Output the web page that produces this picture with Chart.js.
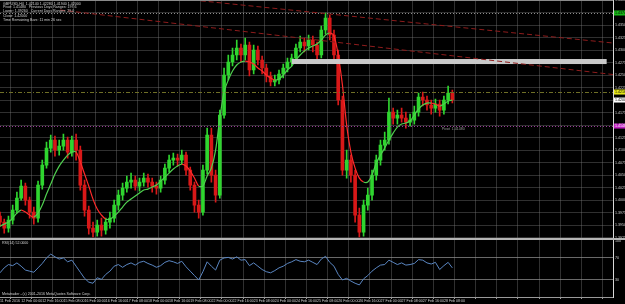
<!DOCTYPE html>
<html>
<head>
<meta charset="utf-8">
<script src="https://cdn.jsdelivr.net/npm/chart.js@4.4.1/dist/chart.umd.min.js"></script>
<style>
  html, body { margin: 0; padding: 0; background: #000; overflow: hidden; }
  #wrap { width: 625px; height: 304px; position: relative; }
</style>
</head>
<body>
<div id="wrap"><canvas id="grafico"></canvas></div>
<script>
// etiquetas de tiempo (una cada 5 velas)
const timeLabels = ['11 Feb 2016', '12 Feb 00:00', '12 Feb 16:00', '15 Feb 08:00', '16 Feb 00:00', '16 Feb 16:00',
  '17 Feb 08:00', '18 Feb 00:00', '18 Feb 16:00', '19 Feb 08:00', '22 Feb 00:00', '22 Feb 16:00', '23 Feb 08:00',
  '24 Feb 00:00', '24 Feb 16:00', '25 Feb 08:00', '26 Feb 00:00', '26 Feb 16:00', '27 Feb 00:00', '27 Feb 08:00',
  '27 Feb 16:00', '28 Feb 08:00'];
const totalSlots = 146; // velas + espacio vacio a la derecha

const opens = [1.3968,1.3956,1.3944,1.3960,1.3980,1.4004,1.4028,1.4000,1.3976,1.3964,1.4030,1.4070,1.4104,1.4120,1.4100,1.4108,
  1.4120,1.4096,1.4120,1.4100,1.4030,1.3980,1.3944,1.3936,1.3950,1.3940,1.3956,1.3964,1.3990,1.4010,1.4024,1.4036,
  1.4040,1.4028,1.4036,1.4044,1.4036,1.4028,1.4024,1.4040,1.4064,1.4080,1.4084,1.4080,1.4090,1.4060,1.4030,1.3990,
  1.3976,1.4060,1.4130,1.4050,1.4010,1.4170,1.4250,1.4276,1.4290,1.4304,1.4290,1.4310,1.4260,1.4300,1.4280,1.4264,
  1.4248,1.4236,1.4240,1.4252,1.4264,1.4276,1.4284,1.4304,1.4316,1.4308,1.4320,1.4310,1.4290,1.4340,1.4364,1.4330,
  1.4290,1.4200,1.4060,1.4080,1.4050,1.3970,1.3936,1.3990,1.4010,1.4050,1.4080,1.4110,1.4120,1.4176,1.4164,1.4170,
  1.4164,1.4156,1.4160,1.4176,1.4206,1.4200,1.4190,1.4184,1.4192,1.4180,1.4200,1.4214];
const highs = [1.3976,1.3962,1.3968,1.3990,1.4016,1.4040,1.4034,1.4006,1.3986,1.4038,1.4080,1.4116,1.4130,1.4128,1.4120,1.4132,
  1.4126,1.4128,1.4132,1.4108,1.4040,1.3988,1.3956,1.3960,1.3964,1.3964,1.3976,1.4000,1.4020,1.4034,1.4048,1.4054,
  1.4048,1.4044,1.4054,1.4052,1.4044,1.4036,1.4048,1.4072,1.4090,1.4094,1.4092,1.4100,1.4096,1.4066,1.4036,1.4000,
  1.4070,1.4144,1.4144,1.4060,1.4180,1.4264,1.4290,1.4304,1.4320,1.4312,1.4324,1.4316,1.4310,1.4308,1.4288,1.4272,
  1.4256,1.4250,1.4260,1.4272,1.4284,1.4292,1.4312,1.4328,1.4324,1.4330,1.4328,1.4316,1.4348,1.4374,1.4370,1.4340,
  1.4300,1.4208,1.4100,1.4090,1.4060,1.3984,1.4000,1.4024,1.4060,1.4090,1.4120,1.4136,1.4204,1.4184,1.4180,1.4184,
  1.4176,1.4172,1.4188,1.4214,1.4216,1.4208,1.4200,1.4202,1.4200,1.4208,1.4228,1.4220];
const lows = [1.3948,1.3934,1.3936,1.3952,1.3974,1.4000,1.3990,1.3964,1.3952,1.3956,1.4022,1.4064,1.4096,1.4088,1.4090,1.4100,
  1.4084,1.4088,1.4080,1.4020,1.3968,1.3932,1.3926,1.3928,1.3928,1.3932,1.3944,1.3956,1.3980,1.4000,1.4016,1.4024,
  1.4020,1.4018,1.4028,1.4026,1.4016,1.4012,1.4016,1.4032,1.4056,1.4070,1.4068,1.4072,1.4050,1.4020,1.3976,1.3964,
  1.3970,1.4052,1.4036,1.3996,1.4004,1.4164,1.4240,1.4268,1.4280,1.4276,1.4280,1.4248,1.4252,1.4270,1.4252,1.4236,
  1.4228,1.4228,1.4232,1.4244,1.4256,1.4268,1.4276,1.4296,1.4296,1.4300,1.4296,1.4280,1.4284,1.4332,1.4320,1.4276,
  1.4190,1.4050,1.4044,1.4036,1.3956,1.3926,1.3928,1.3980,1.4000,1.4040,1.4070,1.4100,1.4112,1.4152,1.4152,1.4156,
  1.4144,1.4148,1.4152,1.4168,1.4188,1.4180,1.4172,1.4176,1.4168,1.4172,1.4192,1.4194];
const closes = [1.3956,1.3944,1.3960,1.3980,1.4004,1.4028,1.4000,1.3976,1.3964,1.4030,1.4070,1.4104,1.4120,1.4100,1.4108,1.4120,
  1.4096,1.4120,1.4100,1.4030,1.3980,1.3944,1.3936,1.3950,1.3940,1.3956,1.3964,1.3990,1.4010,1.4024,1.4036,1.4040,
  1.4028,1.4036,1.4044,1.4036,1.4028,1.4024,1.4040,1.4064,1.4080,1.4084,1.4080,1.4090,1.4060,1.4030,1.3990,1.3976,
  1.4060,1.4130,1.4050,1.4010,1.4170,1.4250,1.4276,1.4290,1.4304,1.4290,1.4310,1.4260,1.4300,1.4280,1.4264,1.4248,
  1.4236,1.4240,1.4252,1.4264,1.4276,1.4284,1.4304,1.4316,1.4308,1.4320,1.4310,1.4290,1.4340,1.4364,1.4330,1.4290,
  1.4200,1.4060,1.4080,1.4050,1.3970,1.3936,1.3990,1.4010,1.4050,1.4080,1.4110,1.4120,1.4176,1.4164,1.4170,1.4164,
  1.4156,1.4160,1.4176,1.4206,1.4200,1.4190,1.4184,1.4192,1.4180,1.4200,1.4214,1.4200];
// media movil (verde sube / roja baja)
const maValues = [1.3948,1.3952,1.3956,1.3964,1.3974,1.3980,1.3976,1.3970,1.3966,1.3974,1.3990,1.4012,1.4032,1.4052,1.4068,1.4080,
  1.4090,1.4096,1.4096,1.4076,1.4052,1.4028,1.4002,1.3982,1.3970,1.3962,1.3962,1.3968,1.3976,1.3986,1.3996,1.4002,
  1.4008,1.4014,1.4020,1.4022,1.4026,1.4030,1.4038,1.4046,1.4054,1.4062,1.4068,1.4072,1.4068,1.4058,1.4044,1.4028,
  1.4028,1.4048,1.4064,1.4100,1.4164,1.4216,1.4240,1.4258,1.4270,1.4276,1.4278,1.4276,1.4272,1.4264,1.4258,1.4250,
  1.4244,1.4240,1.4242,1.4250,1.4260,1.4268,1.4280,1.4290,1.4298,1.4304,1.4308,1.4312,1.4320,1.4330,1.4334,1.4328,
  1.4290,1.4230,1.4150,1.4096,1.4064,1.4044,1.4036,1.4036,1.4050,1.4074,1.4090,1.4104,1.4120,1.4134,1.4146,1.4152,
  1.4154,1.4158,1.4170,1.4182,1.4190,1.4194,1.4194,1.4192,1.4188,1.4192,1.4198,1.4200];
const rsiValues = [43,52,58,56,61,55,48,46,44,52,60,70,77,72,68,70,63,66,55,44,33,26,24,34,31,40,46,55,58,53,58,61,
  57,62,64,60,57,53,56,62,65,63,60,64,54,46,38,30,45,63,55,48,66,70,71,68,72,66,67,56,61,55,49,45,
  43,47,52,55,60,63,67,64,63,66,62,58,68,73,62,55,40,30,33,28,24,21,32,38,46,52,57,58,66,62,58,61,
  57,58,60,67,66,61,59,62,49,56,62,52];
const rsiTicks = [30, 70, 100];

// objetos dibujados en el grafico
const topLevel = 1.4374;
const resistLevel = 1.4216;
const pivotLevel = 1.4148;
const zoneRange = [1.4272, 1.4282];
const zoneSlots = [69, 143.5];
const trendA = [[14.2, 1.4380], [145, 1.4251]];
const trendB = [[45.6, 1.4400], [145, 1.4314]];
const infoLines = ['GBPUSD,H4  1.42140 1.42280 1.41940 1.42000', 'Pivot: 1.41480   Previous Days Ranges: 197.6',
  'Lower: 1.39260   Current Days Ranges: 29.0', 'Close: 1.42000', 'Time Remaining Bars: 11 min 26 sec'];

const verde = '#2fd52f', rojo = '#d81818';
const colorVela = opens.map((o, i) => closes[i] >= o ? verde : rojo);
const letraChica = { size: 3.6, family: 'Liberation Sans' };

const capaObjetos = {
  id: 'capaObjetos',
  afterDatasetsDraw(chart) {
    const { ctx, chartArea: a, scales: { x, y, rsi } } = chart;
    const fnt = '3.6px "Liberation Sans"';
    ctx.save();
    ctx.beginPath();
    ctx.rect(a.left, y.top, a.right - a.left, y.bottom - y.top);
    ctx.clip();
    const hline = (v, color, dash) => {
      const py = Math.round(y.getPixelForValue(v)) + 0.5;
      ctx.strokeStyle = color; ctx.lineWidth = 1; ctx.setLineDash(dash);
      ctx.beginPath(); ctx.moveTo(a.left, py); ctx.lineTo(a.right, py); ctx.stroke();
    };
    hline(topLevel, '#8c8c8c', [1, 2]);
    hline(resistLevel, '#6f6f26', [4, 2, 1, 2]);
    hline(pivotLevel, '#9a3a9a', [1, 2]);
    // zona
    const zx1 = x.getPixelForValue(zoneSlots[0]), zx2 = x.getPixelForValue(zoneSlots[1]);
    const zy1 = y.getPixelForValue(zoneRange[1]), zy2 = y.getPixelForValue(zoneRange[0]);
    ctx.fillStyle = '#c9c9c9';
    ctx.fillRect(zx1, zy1, zx2 - zx1, zy2 - zy1);
    // lineas de tendencia
    ctx.strokeStyle = '#8e1c1c'; ctx.setLineDash([5, 3]);
    [trendA, trendB].forEach(t => {
      ctx.beginPath();
      ctx.moveTo(x.getPixelForValue(t[0][0]), y.getPixelForValue(t[0][1]));
      ctx.lineTo(x.getPixelForValue(t[1][0]), y.getPixelForValue(t[1][1]));
      ctx.stroke();
    });
    ctx.setLineDash([]);
    ctx.font = fnt; ctx.fillStyle = '#9a9a9a'; ctx.textBaseline = 'top';
    ctx.fillText('Pivot  ' + pivotLevel.toFixed(5), x.getPixelForValue(104.5), y.getPixelForValue(pivotLevel) + 1);
    ctx.restore();

    ctx.save();
    // bordes y separador
    ctx.fillStyle = '#8a8a8a';
    ctx.fillRect(0, 0, a.right, 1);
    ctx.fillStyle = '#b4b4b4';
    ctx.fillRect(0, Math.round(y.bottom), chart.width, 2);
    // textos
    ctx.font = fnt; ctx.fillStyle = '#d0d0d0'; ctx.textBaseline = 'middle';
    infoLines.forEach((t, i) => ctx.fillText(t, 3, 3.5 + i * (i < 3 ? 3.5 : 4)));
    ctx.fillText('RSI(14) ' + rsiValues[rsiValues.length - 1].toFixed(4), 2, rsi.top + 5);
    ctx.fillText('Metatrader - (c) 2001-2016 MetaQuotes Software Corp.', 2, rsi.bottom - 3);
    // etiquetas de precio en el eje
    const tags = [[topLevel, '#19b819', '#000'], [resistLevel, '#e6e619', '#000'],
      [closes[closes.length - 1], '#ffffff', '#000'], [pivotLevel, '#c020c0', '#fff']];
    tags.forEach(([v, bg, fg]) => {
      const py = y.getPixelForValue(v);
      ctx.fillStyle = bg; ctx.fillRect(a.right + 1, py - 2.5, chart.width - a.right, 5);
      ctx.fillStyle = fg; ctx.fillText(v.toFixed(5), a.right + 2, py + 0.3);
    });
    ctx.restore();
  }
};

const grillaPunteada = { color: 'rgba(120,120,120,0.4)', lineWidth: 1, drawTicks: false };

new Chart(document.getElementById('grafico'), {
  type: 'bar',
  data: {
    labels: Array.from({ length: totalSlots }, (_, i) => String(i)),
    datasets: [
      {
        label: 'mechas',
        data: lows.map((l, i) => [l, highs[i]]),
        backgroundColor: colorVela,
        barThickness: 1,
        grouped: false,
        yAxisID: 'y',
        order: 3
      },
      {
        label: 'cuerpos',
        data: opens.map((o, i) => [o, closes[i]]),
        backgroundColor: colorVela,
        barThickness: 3,
        minBarLength: 1,
        grouped: false,
        yAxisID: 'y',
        order: 2
      },
      {
        type: 'line',
        label: 'MA',
        data: maValues,
        yAxisID: 'y',
        borderWidth: 1.2,
        pointRadius: 0,
        tension: 0.3,
        borderColor: '#4fcf4f',
        segment: { borderColor: c => c.p1.parsed.y >= c.p0.parsed.y ? '#4fcf4f' : '#ff2a2a' },
        order: 1
      },
      {
        type: 'line',
        label: 'RSI',
        data: rsiValues,
        yAxisID: 'rsi',
        borderColor: '#5a86c2',
        borderWidth: 1,
        pointRadius: 0,
        order: 0
      }
    ]
  },
  options: {
    responsive: true,
    maintainAspectRatio: false,
    devicePixelRatio: 1,
    animation: false,
    layout: { padding: 0 },
    plugins: { legend: { display: false }, tooltip: { enabled: false } },
    scales: {
      x: {
        offset: false,
        grid: { ...grillaPunteada, drawTicks: true, tickLength: 2, tickColor: '#9a9a9a' },
        border: { color: '#9a9a9a', dash: [] },
        ticks: {
          autoSkip: false, maxRotation: 0, align: 'start', padding: 0,
          color: '#cfcfcf', font: letraChica,
          callback: v => (v % 5 === 0 && timeLabels[v / 5]) ? timeLabels[v / 5] : ''
        },
        afterBuildTicks: s => { s.ticks = s.ticks.filter(t => t.value % 5 === 0); },
        afterFit: s => { s.height = 7; s.paddingLeft = 0; s.paddingRight = 0; }
      },
      y: {
        position: 'right',
        stack: 'panel',
        stackWeight: 4,
        min: 1.3925,
        max: 1.4400,
        grid: { ...grillaPunteada },
        border: { color: '#d8d8d8', dash: [] },
        ticks: {
          stepSize: 0.0025, autoSkip: false, padding: 2,
          color: '#d0d0d0', font: letraChica,
          callback: v => v.toFixed(5)
        },
        afterFit: s => { s.width = 12; s.paddingTop = 0; s.paddingBottom = 0; }
      },
      rsi: {
        position: 'right',
        stack: 'panel',
        stackWeight: 1,
        min: -1,
        max: 107,
        grid: { ...grillaPunteada, color: c => c.tick && c.tick.value === 100 ? 'transparent' : 'rgba(150,150,150,0.7)' },
        border: { color: '#d8d8d8', dash: [] },
        ticks: { autoSkip: false, padding: 2, color: '#d0d0d0', font: letraChica },
        afterBuildTicks: s => { s.ticks = rsiTicks.map(v => ({ value: v })); },
        afterFit: s => { s.width = 12; s.paddingTop = 0; s.paddingBottom = 0; }
      }
    }
  },
  plugins: [capaObjetos]
});
</script>
</body>
</html>
